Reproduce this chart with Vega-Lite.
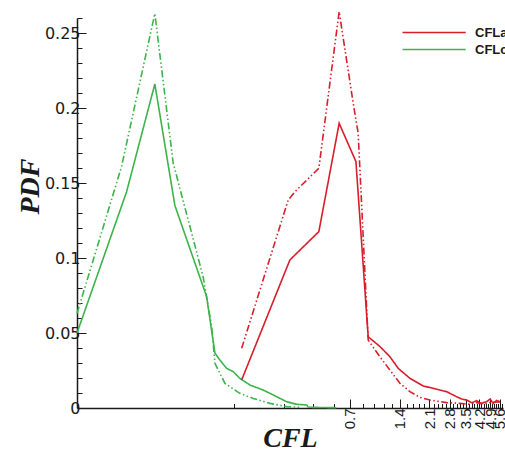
{
  "$schema": "https://vega.github.io/schema/vega-lite/v6.json",
  "width": 426,
  "height": 390,
  "autosize": {"type": "none"},
  "padding": {"left": 77, "top": 18, "right": 2, "bottom": 42},
  "background": "white",
  "config": {"view": {"stroke": null}},
  "data": {"values": [
    {"x": 0.0159, "y": 0.050, "case": "CFLc", "run": "solid"},
    {"x": 0.0316, "y": 0.144, "case": "CFLc", "run": "solid"},
    {"x": 0.0468, "y": 0.216, "case": "CFLc", "run": "solid"},
    {"x": 0.0618, "y": 0.135, "case": "CFLc", "run": "solid"},
    {"x": 0.096, "y": 0.0742, "case": "CFLc", "run": "solid"},
    {"x": 0.1077, "y": 0.0366, "case": "CFLc", "run": "solid"},
    {"x": 0.1153, "y": 0.032, "case": "CFLc", "run": "solid"},
    {"x": 0.1266, "y": 0.0264, "case": "CFLc", "run": "solid"},
    {"x": 0.139, "y": 0.0242, "case": "CFLc", "run": "solid"},
    {"x": 0.152, "y": 0.0198, "case": "CFLc", "run": "solid"},
    {"x": 0.175, "y": 0.0153, "case": "CFLc", "run": "solid"},
    {"x": 0.21, "y": 0.012, "case": "CFLc", "run": "solid"},
    {"x": 0.2415, "y": 0.0087, "case": "CFLc", "run": "solid"},
    {"x": 0.291, "y": 0.0042, "case": "CFLc", "run": "solid"},
    {"x": 0.334, "y": 0.0025, "case": "CFLc", "run": "solid"},
    {"x": 0.384, "y": 0.002, "case": "CFLc", "run": "solid"},
    {"x": 0.393, "y": 0.0005, "case": "CFLc", "run": "solid"},
    {"x": 0.5, "y": 0.0003, "case": "CFLc", "run": "solid"},
    {"x": 0.58, "y": 0.0002, "case": "CFLc", "run": "solid"},
    {"x": 0.0159, "y": 0.063, "case": "CFLc", "run": "dash"},
    {"x": 0.0295, "y": 0.161, "case": "CFLc", "run": "dash"},
    {"x": 0.0468, "y": 0.263, "case": "CFLc", "run": "dash"},
    {"x": 0.0604, "y": 0.163, "case": "CFLc", "run": "dash"},
    {"x": 0.0625, "y": 0.157, "case": "CFLc", "run": "dash"},
    {"x": 0.0914, "y": 0.0875, "case": "CFLc", "run": "dash"},
    {"x": 0.103, "y": 0.054, "case": "CFLc", "run": "dash"},
    {"x": 0.1077, "y": 0.0298, "case": "CFLc", "run": "dash"},
    {"x": 0.1237, "y": 0.0164, "case": "CFLc", "run": "dash"},
    {"x": 0.152, "y": 0.0098, "case": "CFLc", "run": "dash"},
    {"x": 0.183, "y": 0.0064, "case": "CFLc", "run": "dash"},
    {"x": 0.231, "y": 0.0031, "case": "CFLc", "run": "dash"},
    {"x": 0.291, "y": 0.0009, "case": "CFLc", "run": "dash"},
    {"x": 0.35, "y": 0.0005, "case": "CFLc", "run": "dash"},
    {"x": 0.156, "y": 0.0187, "case": "CFLa", "run": "solid"},
    {"x": 0.3045, "y": 0.0987, "case": "CFLa", "run": "solid"},
    {"x": 0.455, "y": 0.1176, "case": "CFLa", "run": "solid"},
    {"x": 0.603, "y": 0.1898, "case": "CFLa", "run": "solid"},
    {"x": 0.761, "y": 0.1643, "case": "CFLa", "run": "solid"},
    {"x": 0.902, "y": 0.0475, "case": "CFLa", "run": "solid"},
    {"x": 1.061, "y": 0.041, "case": "CFLa", "run": "solid"},
    {"x": 1.219, "y": 0.0342, "case": "CFLa", "run": "solid"},
    {"x": 1.368, "y": 0.0264, "case": "CFLa", "run": "solid"},
    {"x": 1.609, "y": 0.0198, "case": "CFLa", "run": "solid"},
    {"x": 1.935, "y": 0.0147, "case": "CFLa", "run": "solid"},
    {"x": 2.223, "y": 0.0131, "case": "CFLa", "run": "solid"},
    {"x": 2.677, "y": 0.0109, "case": "CFLa", "run": "solid"},
    {"x": 3.075, "y": 0.0075, "case": "CFLa", "run": "solid"},
    {"x": 3.3, "y": 0.006, "case": "CFLa", "run": "solid"},
    {"x": 3.533, "y": 0.0053, "case": "CFLa", "run": "solid"},
    {"x": 3.8, "y": 0.0035, "case": "CFLa", "run": "solid"},
    {"x": 4.058, "y": 0.0049, "case": "CFLa", "run": "solid"},
    {"x": 4.3, "y": 0.003, "case": "CFLa", "run": "solid"},
    {"x": 4.66, "y": 0.0042, "case": "CFLa", "run": "solid"},
    {"x": 4.9, "y": 0.006, "case": "CFLa", "run": "solid"},
    {"x": 5.1, "y": 0.003, "case": "CFLa", "run": "solid"},
    {"x": 5.35, "y": 0.005, "case": "CFLa", "run": "solid"},
    {"x": 5.6, "y": 0.0042, "case": "CFLa", "run": "solid"},
    {"x": 0.156, "y": 0.0398, "case": "CFLa", "run": "dash"},
    {"x": 0.2975, "y": 0.1387, "case": "CFLa", "run": "dash"},
    {"x": 0.3266, "y": 0.1442, "case": "CFLa", "run": "dash"},
    {"x": 0.455, "y": 0.1598, "case": "CFLa", "run": "dash"},
    {"x": 0.603, "y": 0.2642, "case": "CFLa", "run": "dash"},
    {"x": 0.733, "y": 0.2031, "case": "CFLa", "run": "dash"},
    {"x": 0.785, "y": 0.1831, "case": "CFLa", "run": "dash"},
    {"x": 0.902, "y": 0.0453, "case": "CFLa", "run": "dash"},
    {"x": 1.061, "y": 0.0342, "case": "CFLa", "run": "dash"},
    {"x": 1.219, "y": 0.0253, "case": "CFLa", "run": "dash"},
    {"x": 1.4, "y": 0.0165, "case": "CFLa", "run": "dash"},
    {"x": 1.609, "y": 0.0109, "case": "CFLa", "run": "dash"},
    {"x": 1.849, "y": 0.0071, "case": "CFLa", "run": "dash"},
    {"x": 2.123, "y": 0.0053, "case": "CFLa", "run": "dash"},
    {"x": 2.677, "y": 0.0036, "case": "CFLa", "run": "dash"},
    {"x": 3.22, "y": 0.0031, "case": "CFLa", "run": "dash"},
    {"x": 3.6, "y": 0.0025, "case": "CFLa", "run": "dash"},
    {"x": 4.058, "y": 0.0036, "case": "CFLa", "run": "dash"},
    {"x": 4.5, "y": 0.0028, "case": "CFLa", "run": "dash"},
    {"x": 5.0, "y": 0.0038, "case": "CFLa", "run": "dash"},
    {"x": 5.6, "y": 0.004, "case": "CFLa", "run": "dash"}
  ]},
  "mark": {"type": "line", "strokeWidth": 1.6},
  "encoding": {
    "x": {
      "field": "x", "type": "quantitative",
      "scale": {"type": "log", "domain": [0.0159, 5.85], "nice": false},
      "axis": {
        "title": "CFL",
        "titleFont": "Liberation Serif", "titleFontStyle": "italic", "titleFontWeight": "bold",
        "titleFontSize": 28, "titleColor": "#1a1a1a",
        "titleX": 213, "titleY": 38, "titleBaseline": "alphabetic", "titleAlign": "center",
        "values": [0.14,0.28,0.42,0.56,0.7,0.84,0.98,1.12,1.26,1.4,1.54,1.68,1.82,1.96,2.1,2.24,2.38,2.52,2.66,2.8,2.94,3.08,3.22,3.36,3.5,3.64,3.78,3.92,4.06,4.2,4.34,4.48,4.62,4.76,4.9,5.04,5.18,5.32,5.46,5.6,5.74],
        "labelExpr": "abs(datum.value/0.7 - round(datum.value/0.7)) < 1e-6 ? format(datum.value, '.1f') : ''",
        "labelAngle": -90, "labelFont": "Liberation Sans", "labelFontSize": 15, "labelColor": "#1a1a1a",
        "labelPadding": 9, "labelOverlap": false, "labelFlush": false,
        "tickSize": {"condition": {"test": "abs(datum.value/0.7 - round(datum.value/0.7)) < 1e-6", "value": -9}, "value": -4.5},
        "tickColor": "#1a1a1a", "tickWidth": 1,
        "domainColor": "#1a1a1a", "domainWidth": 1.5, "grid": false
      }
    },
    "y": {
      "field": "y", "type": "quantitative",
      "scale": {"domain": [0, 0.26], "nice": false, "zero": true},
      "axis": {
        "title": "PDF",
        "titleFont": "Liberation Serif", "titleFontStyle": "italic", "titleFontWeight": "bold",
        "titleFontSize": 28, "titleColor": "#1a1a1a",
        "titleX": -39, "titleY": 168, "titleBaseline": "alphabetic", "titleAlign": "center", "titleAngle": -90,
        "values": [0,0.01,0.02,0.03,0.04,0.05,0.06,0.07,0.08,0.09,0.1,0.11,0.12,0.13,0.14,0.15,0.16,0.17,0.18,0.19,0.2,0.21,0.22,0.23,0.24,0.25,0.26],
        "labelExpr": "abs(datum.value*20 - round(datum.value*20)) < 1e-6 ? format(datum.value, '.2~f') : ''",
        "labelFont": "DejaVu Sans", "labelFontSize": 16, "labelColor": "#1a1a1a",
        "labelPadding": 6, "labelOverlap": false, "labelFlush": false,
        "tickSize": {"condition": {"test": "abs(datum.value*20 - round(datum.value*20)) < 1e-6", "value": -9}, "value": -5},
        "tickColor": "#1a1a1a", "tickWidth": 1,
        "domainColor": "#1a1a1a", "domainWidth": 1.5, "grid": false
      }
    },
    "color": {
      "field": "case", "type": "nominal",
      "scale": {"domain": ["CFLa", "CFLc"], "range": ["#d81e2a", "#3cb44b"]},
      "legend": {
        "title": null, "orient": "none", "legendX": 319, "legendY": 8,
        "symbolType": "M0,0H20", "symbolSize": 40, "symbolStrokeWidth": 1.5,
        "labelOffset": 66, "labelFont": "Liberation Sans", "labelFontWeight": "bold", "labelFontSize": 13,
        "labelColor": "#1a1a1a", "rowPadding": 3, "padding": 0
      }
    },
    "strokeDash": {
      "field": "run", "type": "nominal",
      "scale": {"domain": ["solid", "dash"], "range": [[1, 0], [7, 2.5, 1.5, 2.5, 1.5, 2.5]]},
      "legend": null
    }
  }
}
